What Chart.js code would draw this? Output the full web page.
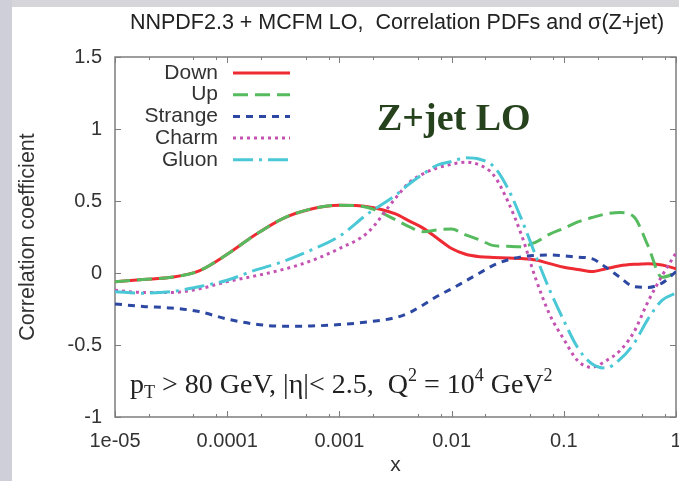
<!DOCTYPE html>
<html>
<head>
<meta charset="utf-8">
<script src="https://cdn.jsdelivr.net/npm/chart.js@4"></script>
<style>
  html, body { margin: 0; padding: 0; background: #fff; }
</style>
</head>
<body>
<canvas id="myChart" width="679" height="481"></canvas>
<script>
// x positions as powers of ten
const xExp = [-5, -4.75, -4.5, -4.25, -4, -3.75, -3.5, -3.25, -3, -2.75, -2.5, -2.375, -2.25, -2.125, -2,
  -1.875, -1.75, -1.625, -1.5, -1.375, -1.25, -1.125, -1, -0.875, -0.75, -0.625, -0.5, -0.375, -0.25, -0.125, 0];

const downVals = [-0.06, -0.045, -0.03, 0.015, 0.13, 0.265, 0.38, 0.445, 0.47, 0.46, 0.41, 0.36, 0.31, 0.24, 0.17,
  0.13, 0.113, 0.108, 0.105, 0.10, 0.09, 0.065, 0.04, 0.025, 0.01, 0.03, 0.05, 0.06, 0.065, 0.055, 0.03];
const upVals = [-0.06, -0.045, -0.03, 0.015, 0.13, 0.265, 0.38, 0.445, 0.47, 0.455, 0.37, 0.32, 0.287, 0.30, 0.305,
  0.265, 0.23, 0.19, 0.185, 0.183, 0.215, 0.27, 0.31, 0.355, 0.385, 0.41, 0.42, 0.39, 0.19, -0.03, 0.0];
const strangeVals = [-0.215, -0.232, -0.243, -0.268, -0.32, -0.355, -0.37, -0.368, -0.358, -0.34, -0.31, -0.275, -0.22, -0.16, -0.11,
  -0.055, 0.0, 0.055, 0.09, 0.113, 0.122, 0.125, 0.12, 0.11, 0.10, 0.04, -0.03, -0.095, -0.10, -0.07, 0.01];
const charmVals = [-0.12, -0.135, -0.135, -0.11, -0.06, -0.02, 0.025, 0.085, 0.17, 0.28, 0.52, 0.63, 0.69, 0.73, 0.755,
  0.77, 0.75, 0.68, 0.50, 0.26, -0.04, -0.29, -0.46, -0.61, -0.655, -0.61, -0.54, -0.41, -0.20, -0.02, 0.14];
const gluonVals = [-0.13, -0.14, -0.13, -0.095, -0.05, 0.02, 0.08, 0.16, 0.255, 0.41, 0.54, 0.62, 0.69, 0.75, 0.775,
  0.80, 0.79, 0.74, 0.59, 0.37, 0.12, -0.12, -0.33, -0.52, -0.63, -0.66, -0.60, -0.49, -0.32, -0.19, -0.14];

const seriesNames = ['Down', 'Up', 'Strange', 'Charm', 'Gluon'];
const seriesColors = ['rgb(238,42,50)', 'rgb(86,186,94)', 'rgb(44,72,162)', 'rgb(196,82,178)', 'rgb(74,200,214)'];
const seriesDash = [[], [15, 7], [7, 6], [3, 4], [20, 6, 3, 6]];

const xMajorExp = [-5, -4, -3, -2, -1, 0];
const xTickLabels = ['1e-05', '0.0001', '0.001', '0.01', '0.1', '1'];
const xMinorMant = [2, 5, 8];
const yTicks = [-1, -0.5, 0, 0.5, 1, 1.5];
const yTickLabels = ['-1', '-0.5', '0', '0.5', '1', '1.5'];

const SANS = '"Liberation Sans", Arial, sans-serif';
const SERIF = '"Liberation Serif", "Times New Roman", serif';

const allVals = [downVals, upVals, strangeVals, charmVals, gluonVals];

const xTickVals = [];
xMajorExp.forEach((e, i) => {
  xTickVals.push(Math.pow(10, e));
  if (i < xMajorExp.length - 1) xMinorMant.forEach(m => xTickVals.push(m * Math.pow(10, e)));
});

function isMajor(v) {
  return xMajorExp.findIndex(e => Math.abs(Math.pow(10, e) - v) / v < 1e-6);
}

// later series are drawn on top, like gnuplot does
const datasets = seriesNames.map((name, i) => ({
  label: name,
  data: xExp.map((e, k) => ({ x: Math.pow(10, e), y: allVals[i][k] })),
  borderColor: seriesColors[i],
  borderDash: seriesDash[i],
  borderWidth: 3,
  pointRadius: 0,
  fill: false,
  order: seriesNames.length - i,
  cubicInterpolationMode: 'monotone'
}));

const decor = {
  id: 'decor',
  beforeDraw(chart) {
    const ctx = chart.ctx;
    ctx.save();
    ctx.fillStyle = '#fff';
    ctx.fillRect(0, 0, chart.width, chart.height);
    ctx.fillStyle = 'rgb(214,214,218)';
    ctx.fillRect(0, 0, chart.width, 7);
    ctx.fillStyle = 'rgb(206,207,216)';
    ctx.fillRect(0, 0, 12, chart.height);
    ctx.restore();
  },
  beforeDatasetsDraw(chart) {
    const ctx = chart.ctx;
    const a = chart.chartArea;
    const xs = chart.scales.x, ys = chart.scales.y;
    ctx.save();
    ctx.strokeStyle = 'rgb(125,125,125)';
    ctx.lineWidth = 1.5;
    ctx.strokeRect(a.left, a.top, a.right - a.left, a.bottom - a.top);
    ctx.lineWidth = 1;
    ctx.beginPath();
    xTickVals.forEach(v => {
      const px = Math.round(xs.getPixelForValue(v)) + 0.5;
      const len = isMajor(v) >= 0 ? 6 : 3;
      ctx.moveTo(px, a.bottom); ctx.lineTo(px, a.bottom - len);
      ctx.moveTo(px, a.top); ctx.lineTo(px, a.top + len);
    });
    yTicks.forEach(v => {
      const py = Math.round(ys.getPixelForValue(v)) + 0.5;
      ctx.moveTo(a.left, py); ctx.lineTo(a.left + 6, py);
      ctx.moveTo(a.right, py); ctx.lineTo(a.right - 6, py);
    });
    ctx.stroke();
    ctx.restore();
  },
  afterDraw(chart) {
    const ctx = chart.ctx;
    const a = chart.chartArea;
    ctx.save();
    // title
    ctx.fillStyle = '#222';
    ctx.font = '21.5px ' + SANS;
    ctx.textAlign = 'center';
    ctx.textBaseline = 'middle';
    ctx.fillText('NNPDF2.3 + MCFM LO,  Correlation PDFs and \u03c3(Z+jet)', 397, 23);
    // axis titles
    ctx.fillStyle = '#333';
    ctx.font = '21px ' + SANS;
    ctx.fillText('x', (a.left + a.right) / 2, 465);
    ctx.save();
    ctx.translate(28, (a.top + a.bottom) / 2);
    ctx.rotate(-Math.PI / 2);
    ctx.font = '21.5px ' + SANS;
    ctx.fillText('Correlation coefficient', 0, 0);
    ctx.restore();
    // legend
    chart.data.datasets.forEach((ds, i) => {
      const y = 73 + 21.7 * i;
      ctx.fillStyle = '#333';
      ctx.font = '21px ' + SANS;
      ctx.textAlign = 'right';
      ctx.fillText(ds.label, 218, y);
      ctx.strokeStyle = ds.borderColor;
      ctx.lineWidth = 3;
      ctx.setLineDash(ds.borderDash);
      ctx.beginPath();
      ctx.moveTo(233, y);
      ctx.lineTo(290, y);
      ctx.stroke();
      ctx.setLineDash([]);
    });
    // Z+jet LO
    ctx.textAlign = 'left';
    ctx.textBaseline = 'alphabetic';
    ctx.fillStyle = 'rgb(38,66,28)';
    ctx.font = 'bold 38px ' + SERIF;
    ctx.fillText('Z+jet LO', 377, 130);
    // kinematics
    const parts = [
      { t: 'p', s: 28, dy: 0 },
      { t: 'T', s: 18, dy: 5 },
      { t: ' > 80 GeV, |\u03b7|< 2.5,  Q', s: 28, dy: 0 },
      { t: '2', s: 18, dy: -12 },
      { t: ' = 10', s: 28, dy: 0 },
      { t: '4', s: 18, dy: -12 },
      { t: ' GeV', s: 28, dy: 0 },
      { t: '2', s: 18, dy: -12 }
    ];
    ctx.fillStyle = '#222';
    let x = 130;
    parts.forEach(p => {
      ctx.font = p.s + 'px ' + SERIF;
      ctx.fillText(p.t, x, 393 + p.dy);
      x += ctx.measureText(p.t).width;
    });
    ctx.restore();
  }
};

const config = {
  type: 'line',
  data: { datasets: datasets },
  options: {
    responsive: false,
    animation: false,
    layout: { padding: { top: 57, right: 3, left: 0, bottom: 0 } },
    plugins: {
      legend: { display: false },
      title: { display: false },
      tooltip: { enabled: false }
    },
    scales: {
      x: {
        type: 'logarithmic',
        min: 1e-5,
        max: 1,
        afterBuildTicks: s => { s.ticks = xTickVals.map(v => ({ value: v })); },
        afterFit: s => { s.height = 64; s.paddingLeft = 0; s.paddingRight = 0; },
        grid: { display: false, drawTicks: false },
        border: { display: false },
        ticks: {
          autoSkip: false,
          maxRotation: 0,
          padding: 12,
          color: '#333',
          font: { family: SANS, size: 20 },
          callback: v => { const k = isMajor(v); return k >= 0 ? xTickLabels[k] : ''; }
        }
      },
      y: {
        min: -1,
        max: 1.5,
        afterBuildTicks: s => { s.ticks = yTicks.map(v => ({ value: v })); },
        afterFit: s => { s.width = 115; },
        grid: { display: false, drawTicks: false },
        border: { display: false },
        ticks: {
          padding: 13,
          color: '#333',
          font: { family: SANS, size: 20 },
          callback: v => yTickLabels[yTicks.indexOf(v)]
        }
      }
    }
  },
  plugins: [decor]
};

const myChart = new Chart(document.getElementById('myChart'), config);
</script>
</body>
</html>
